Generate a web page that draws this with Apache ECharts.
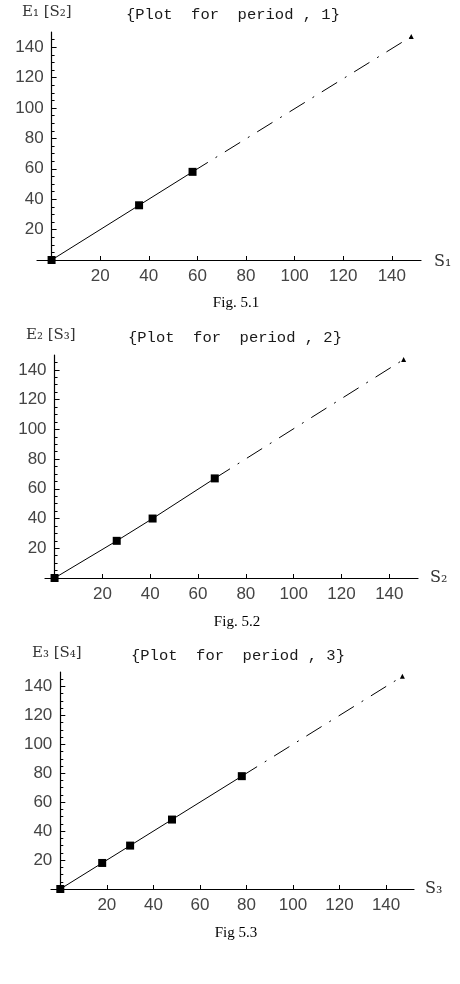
<!DOCTYPE html>
<html>
<head>
<meta charset="utf-8">
<script src="https://cdn.jsdelivr.net/npm/echarts@6/dist/echarts.min.js"></script>
<style>
  html, body { margin: 0; background: #fff; }
  #chart { width: 460px; height: 984px; }
</style>
</head>
<body>
<div id="chart"></div>
<script>
// values (S on the x axis, E on the y axis)
const xTicks = [20, 40, 60, 80, 100, 120, 140]
const yTicks = [20, 40, 60, 80, 100, 120, 140]
const yMajor = [0, 20, 40, 60, 80, 100, 120, 140]
const yMinor = [5, 10, 15, 25, 30, 35, 45, 50, 55, 65, 70, 75, 85, 90, 95, 105, 110, 115, 125, 130, 135, 145]

const s1 = [0, 36, 58]
const e1 = [0, 36, 58]
const s2 = [0, 26, 41, 67]
const e2 = [0, 25, 40, 67]
const s3 = [0, 18, 30, 48, 78]
const e3 = [0, 18, 30, 48, 78]
const endS = [148, 146, 147]
const endE = [147, 147, 147]

const yNames = ['E₁ [S₂]', 'E₂ [S₃]', 'E₃ [S₄]']
const xNames = ['S₁', 'S₂', 'S₃']
const titles = ['{Plot  for  period , 1}', '{Plot  for  period , 2}', '{Plot  for  period , 3}']
const captions = ['Fig. 5.1', 'Fig. 5.2', 'Fig 5.3']

// where each panel sits on the page
const panels = [
  { left: 37, width: 384, top: 32, height: 228, xMin: -6,
    yName: [22, 12], title: [126, 15], xName: [434, 262], caption: [236, 303] },
  { left: 45, width: 373, top: 355, height: 223, xMin: -4,
    yName: [26, 335], title: [128, 338], xName: [430, 578], caption: [237, 622] },
  { left: 51, width: 363, top: 672, height: 217, xMin: -4,
    yName: [32, 653], title: [131, 656], xName: [425, 889], caption: [236, 933] }
]
const xMax = 152
const sVals = [s1, s2, s3]
const eVals = [e1, e2, e3]

const chart = echarts.init(document.getElementById('chart'), null, { renderer: 'canvas' })

const tickFont = { fontFamily: 'Liberation Sans', fontSize: 17, color: '#444' }
const grid = [], xAxis = [], yAxis = [], series = [], graphic = []

const label = (txt, pos, font, align, color) => ({
  type: 'text',
  x: pos[0],
  y: pos[1],
  style: {
    text: txt, font: font, fill: color || '#333',
    align: align, verticalAlign: 'middle',
    textAlign: align, textVerticalAlign: 'middle'
  }
})

panels.forEach((p, i) => {
  // shift the y axis from the grid edge to x = 0
  const yOffset = p.xMin * p.width / (xMax - p.xMin)
  grid.push({ left: p.left, width: p.width, top: p.top, height: p.height })
  xAxis.push({
    type: 'value', gridIndex: i, min: p.xMin, max: xMax,
    splitLine: { show: false },
    axisLine: { onZero: true, lineStyle: { color: '#000', width: 1.2 } },
    axisTick: { inside: true, length: 4, customValues: xTicks, lineStyle: { color: '#000' } },
    axisLabel: Object.assign({ customValues: xTicks, margin: 8 }, tickFont)
  })
  // main y axis: line, major ticks, labels
  yAxis.push({
    type: 'value', gridIndex: i, min: 0, max: 150, position: 'left', offset: yOffset,
    splitLine: { show: false },
    axisLine: { onZero: false, lineStyle: { color: '#000', width: 1.2 } },
    axisTick: { inside: true, length: 5, customValues: yMajor, lineStyle: { color: '#000' } },
    axisLabel: Object.assign({ customValues: yTicks, margin: 8 }, tickFont)
  })
  // overlay y axis for the minor ticks
  yAxis.push({
    type: 'value', gridIndex: i, min: 0, max: 150, position: 'left', offset: yOffset,
    splitLine: { show: false },
    axisLine: { show: false, onZero: false },
    axisTick: { inside: true, length: 3, customValues: yMinor, lineStyle: { color: '#000' } },
    axisLabel: { show: false }
  })

  const s = sVals[i], e = eVals[i]
  const pts = s.map((v, k) => [v, e[k]])
  const last = pts[pts.length - 1]
  series.push({
    type: 'line', xAxisIndex: i, yAxisIndex: 2 * i,
    data: pts,
    symbol: 'rect', symbolSize: 8,
    itemStyle: { color: '#000' },
    lineStyle: { color: '#000', width: 1 },
    silent: true, animation: false
  })
  series.push({
    type: 'line', xAxisIndex: i, yAxisIndex: 2 * i,
    data: [
      { value: last, symbol: 'none' },
      { value: [endS[i], endE[i]], symbol: 'triangle', symbolSize: 5 }
    ],
    showSymbol: true,
    itemStyle: { color: '#000' },
    lineStyle: { color: '#000', width: 1, type: [18, 9, 2, 9] },
    silent: true, animation: false
  })

  graphic.push(label(yNames[i], p.yName, '15px "DejaVu Serif"', 'left'))
  graphic.push(label(titles[i], p.title, '15.5px "Liberation Mono"', 'left', '#1a1a1a'))
  graphic.push(label(xNames[i], p.xName, '16px "DejaVu Serif"', 'left'))
  graphic.push(label(captions[i], p.caption, '15px "Liberation Serif"', 'center', '#000'))
})

chart.setOption({
  backgroundColor: '#fff',
  animation: false,
  grid, xAxis, yAxis, series, graphic
})
</script>
</body>
</html>
